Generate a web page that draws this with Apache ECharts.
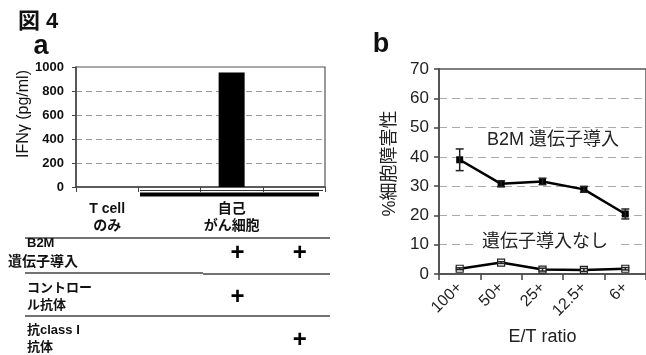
<!DOCTYPE html>
<html><head><meta charset="utf-8">
<script src="https://cdn.jsdelivr.net/npm/echarts@6/dist/echarts.min.js"></script>
<style>html,body{margin:0;padding:0;background:#fff}#c{width:646px;height:355px}</style>
</head><body><div id="c"></div>
<script>
// ---- Data: panel a ----
var aCategories = ['T cell\nのみ', '', '自己\nがん細胞', ''];
var ifnValues = [0, 0, 955, 0];
var aTicks = [0, 200, 400, 600, 800, 1000];
var rowB2M = [0, 0, 1, 1];
var rowControlAb = [0, 0, 1, 0];
var rowAntiClassI = [0, 0, 0, 1];
// ---- Data: panel b ----
var etRatios = ['100+', '50+', '25+', '12.5+', '6+'];
var b2mMean = [39.0, 30.8, 31.6, 28.9, 20.5];
var b2mErr = [3.7, 1.0, 1.1, 1.0, 1.7];
var noneMean = [1.8, 3.9, 1.5, 1.4, 1.8];
var noneErr = [0.3, 0.3, 0.5, 0.5, 0.4];
var bTicks = [0, 10, 20, 30, 40, 50, 60, 70];

var FF = "'Liberation Sans','Noto Sans CJK JP',sans-serif";
var chart = echarts.init(document.getElementById('c'), null, {renderer: 'canvas'});

function errSeries(mean, err) {
  return {
    type: 'custom', xAxisIndex: 1, yAxisIndex: 1, z: 5,
    data: mean.map(function (m, i) { return [i, m, err[i]]; }),
    renderItem: function (params, api) {
      var i = api.value(0), m = api.value(1), e = api.value(2);
      var hi = api.coord([i, m + e]), lo = api.coord([i, m - e]);
      var s = {stroke: '#222', lineWidth: 1.5};
      return {type: 'group', children: [
        {type: 'line', shape: {x1: hi[0], y1: hi[1], x2: lo[0], y2: lo[1]}, style: s},
        {type: 'line', shape: {x1: hi[0] - 4, y1: hi[1], x2: hi[0] + 4, y2: hi[1]}, style: s},
        {type: 'line', shape: {x1: lo[0] - 4, y1: lo[1], x2: lo[0] + 4, y2: lo[1]}, style: s}
      ]};
    }
  };
}

var option = {
  animation: false,
  textStyle: {fontFamily: FF},
  grid: [
    {left: 76, top: 67, width: 249, height: 120, show: true, borderColor: '#555', borderWidth: 1.2, containLabel: false},
    {left: 439, top: 69, width: 209, height: 205, show: true, borderColor: '#555', borderWidth: 1.5, containLabel: false}
  ],
  xAxis: [
    {gridIndex: 0, type: 'category', data: aCategories,
     axisLine: {lineStyle: {color: '#444', width: 1.5}},
     axisTick: {show: true, length: 5, lineStyle: {color: '#444'}},
     axisLabel: {interval: 0, margin: 14, fontSize: 14, fontWeight: 'bold', color: '#111', lineHeight: 17, fontFamily: FF},
     splitLine: {show: false}},
    {gridIndex: 1, type: 'category', data: etRatios,
     axisLine: {lineStyle: {color: '#555', width: 2}},
     axisTick: {show: true, length: 6, lineStyle: {color: '#444', width: 1.5}},
     axisLabel: {interval: 0, rotate: 45, margin: 11, fontSize: 16, color: '#222', fontFamily: FF},
     name: 'E/T ratio', nameLocation: 'middle', nameGap: 54,
     nameTextStyle: {fontSize: 18, color: '#222', fontFamily: FF},
     splitLine: {show: false}}
  ],
  yAxis: [
    {gridIndex: 0, type: 'value', min: aTicks[0], max: aTicks[aTicks.length - 1], interval: 200,
     axisLine: {show: true, lineStyle: {color: '#444', width: 1.5}},
     axisTick: {show: true, length: 4, lineStyle: {color: '#444'}},
     axisLabel: {margin: 12, fontSize: 13, fontWeight: 'bold', color: '#111', fontFamily: FF,
                 formatter: function (v) { return String(v); }},
     splitLine: {show: true, showMaxLine: false, showMinLine: false, lineStyle: {color: '#999', type: [6, 4], width: 1}},
     name: 'IFNγ (pg/ml)', nameLocation: 'middle', nameRotate: 90, nameGap: 42,
     nameTextStyle: {fontSize: 16, color: '#111', fontFamily: FF, padding: [0, 0, 0, 26]}},
    {gridIndex: 1, type: 'value', min: bTicks[0], max: bTicks[bTicks.length - 1], interval: 10,
     axisLine: {show: true, lineStyle: {color: '#555', width: 2}},
     axisTick: {show: true, length: 5, lineStyle: {color: '#444', width: 1.5}},
     axisLabel: {margin: 10, fontSize: 17, color: '#222', fontFamily: FF},
     splitLine: {show: true, showMaxLine: false, showMinLine: false, lineStyle: {color: '#aaa', type: [8, 5], width: 1.2}},
     name: '%細胞障害性', nameLocation: 'middle', nameRotate: 90, nameGap: 40,
     nameTextStyle: {fontSize: 18, color: '#222', fontFamily: FF, padding: [0, 0, 0, 16]}}
  ],
  series: [
    {type: 'bar', xAxisIndex: 0, yAxisIndex: 0, data: ifnValues, barWidth: 26,
     itemStyle: {color: '#000'}},
    {type: 'line', xAxisIndex: 1, yAxisIndex: 1, data: b2mMean, symbol: 'rect', symbolSize: 7,
     itemStyle: {color: '#000'}, lineStyle: {color: '#000', width: 2.5}, z: 4},
    {type: 'line', xAxisIndex: 1, yAxisIndex: 1, data: noneMean, symbol: 'rect', symbolSize: 7,
     itemStyle: {color: '#fff', borderColor: '#222', borderWidth: 1.2}, lineStyle: {color: '#000', width: 2.5}, z: 4},
    errSeries(b2mMean, b2mErr),
    errSeries(noneMean, noneErr)
  ]
};
chart.setOption(option);

// graphics (titles, annotations, table)
var g = [];
function txt(x, y, s, size, opts) {
  opts = opts || {};
  g.push({type: 'text', x: x, y: y, z: 100, style: Object.assign({
    text: s, fontSize: size, fontFamily: FF, fill: opts.fill || '#111',
    fontWeight: opts.weight || 'normal', align: opts.align || 'left', verticalAlign: 'middle'
  }, opts.extra || {})});
}
txt(18, 22, '図 4', 22, {weight: 'bold'});
txt(41, 47, 'a', 27, {weight: 'bold', align: 'center'});
txt(381, 45, 'b', 27, {weight: 'bold', align: 'center'});
txt(553, 140, 'B2M 遺伝子導入', 18, {align: 'center', fill: '#222', extra: {backgroundColor: '#fff', padding: [3, 8]}});
txt(545, 242, '遺伝子導入なし', 18, {align: 'center', fill: '#222', extra: {backgroundColor: '#fff', padding: [3, 8]}});

// bracket under autologous cancer cells
g.push({type: 'rect', z: 100, shape: {x: 140, y: 192.5, width: 179, height: 4}, style: {fill: '#000'}});
g.push({type: 'line', z: 100, shape: {x1: 140, y1: 190.5, x2: 323, y2: 190.5}, style: {stroke: '#333', lineWidth: 1}});

// table lines
[[238, 25, 330], [273, 25, 203], [274, 203, 330], [316, 25, 330]].forEach(function (l) {
  g.push({type: 'line', z: 100, shape: {x1: l[1], y1: l[0], x2: l[2], y2: l[0]}, style: {stroke: '#444', lineWidth: 1.3}});
});
// row labels
txt(27, 243, 'B2M', 13, {weight: 'bold'});
txt(8, 262, '遺伝子導入', 14, {weight: 'bold'});
txt(27, 288, 'コントロー', 13, {weight: 'bold'});
txt(27, 305, 'ル抗体', 13, {weight: 'bold'});
txt(27, 330, '抗class I', 13, {weight: 'bold'});
txt(27, 347, '抗体', 13, {weight: 'bold'});
// plus marks from row arrays
var rows = [[rowB2M, 253], [rowControlAb, 297], [rowAntiClassI, 340]];
rows.forEach(function (r) {
  r[0].forEach(function (v, i) {
    if (v) {
      var px = chart.convertToPixel({xAxisIndex: 0}, i);
      txt(px + 6, r[1], '+', 24, {weight: 'bold', align: 'center', fill: '#000'});
    }
  });
});
chart.setOption({graphic: g});
</script></body></html>
